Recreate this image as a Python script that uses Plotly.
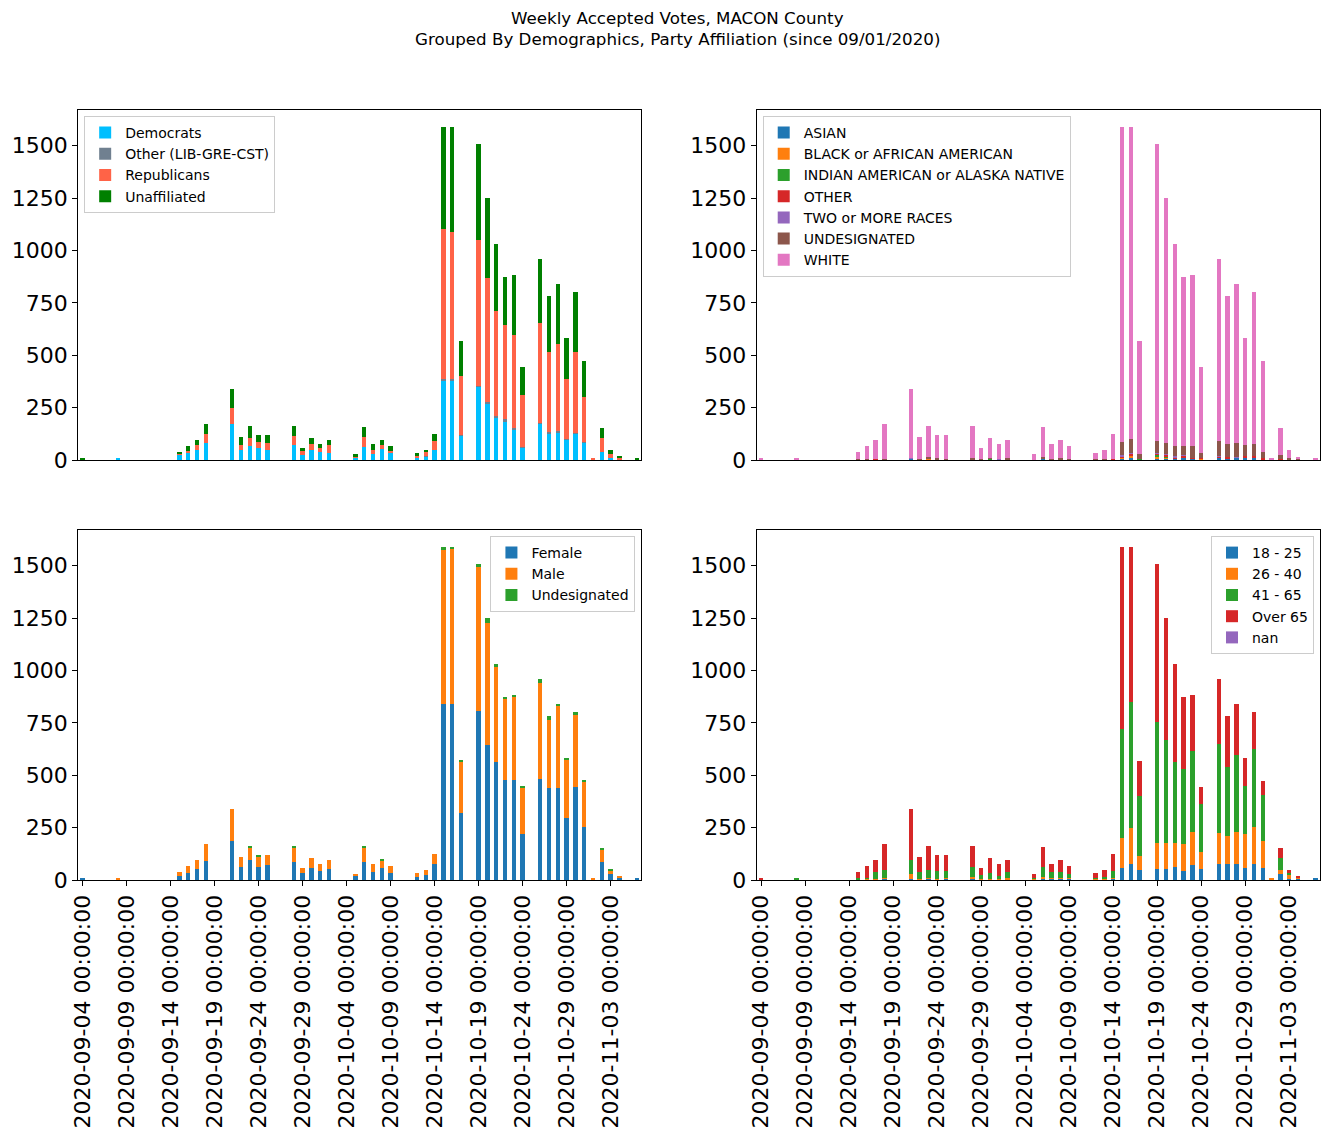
import pandas as pd
import plotly.graph_objects as go

# ---- data ----
ALL_DAYS = [d.strftime("%Y-%m-%d %H:%M:%S") for d in pd.date_range("2020-09-04", "2020-11-06", freq="D")]
TICK_LABELS = ALL_DAYS[::5]

DATES = ["2020-09-04", "2020-09-08", "2020-09-15", "2020-09-16", "2020-09-17", "2020-09-18",
         "2020-09-21", "2020-09-22", "2020-09-23", "2020-09-24", "2020-09-25",
         "2020-09-28", "2020-09-29", "2020-09-30", "2020-10-01", "2020-10-02",
         "2020-10-05", "2020-10-06", "2020-10-07", "2020-10-08", "2020-10-09",
         "2020-10-12", "2020-10-13", "2020-10-14", "2020-10-15", "2020-10-16", "2020-10-17",
         "2020-10-19", "2020-10-20", "2020-10-21", "2020-10-22", "2020-10-23", "2020-10-24",
         "2020-10-26", "2020-10-27", "2020-10-28", "2020-10-29", "2020-10-30", "2020-10-31",
         "2020-11-01", "2020-11-02", "2020-11-03", "2020-11-04", "2020-11-06"]
DATES = [d + " 00:00:00" for d in DATES]

# Party affiliation
democrats = [0, 5, 24, 33, 49, 81, 174, 49, 68, 59, 49, 72, 24, 49, 40, 33, 10, 62, 30, 53, 33, 11, 16, 49,
             379, 379, 116, 350, 271, 202, 186, 143, 61, 175, 126, 129, 96, 126, 83, 0, 40, 11, 2, 0]
other_party = [0, 0, 0, 0, 0, 0, 0, 0, 0, 0, 0, 0, 0, 0, 0, 0, 0, 0, 0, 0, 0, 0, 3, 0,
               6, 9, 5, 5, 4, 10, 8, 11, 3, 3, 9, 10, 4, 1, 5, 0, 0, 0, 0, 0]
republicans = [0, 0, 5, 10, 23, 45, 74, 23, 37, 27, 32, 43, 19, 29, 17, 39, 4, 48, 19, 19, 10, 9, 19, 42,
               719, 701, 280, 696, 594, 497, 451, 443, 247, 476, 381, 415, 287, 389, 213, 5, 65, 19, 9, 0]
unaffiliated = [5, 0, 9, 24, 24, 46, 91, 38, 57, 33, 38, 47, 14, 27, 19, 24, 15, 48, 27, 24, 24, 13, 10, 33,
                487, 502, 169, 455, 383, 323, 230, 288, 133, 306, 267, 288, 196, 287, 172, 0, 48, 18, 5, 6]

# Race
asian = [0, 0, 0, 0, 0, 0, 5, 0, 0, 0, 0, 0, 0, 0, 0, 0, 0, 5, 0, 0, 0, 0, 0, 0,
         8, 10, 0, 5, 6, 6, 10, 8, 0, 10, 8, 10, 8, 8, 0, 0, 0, 0, 0, 0]
black = [0, 0, 0, 0, 0, 0, 0, 0, 5, 0, 0, 0, 0, 0, 0, 0, 0, 0, 0, 0, 0, 0, 0, 0,
         3, 10, 0, 14, 5, 3, 0, 0, 6, 0, 0, 0, 0, 0, 0, 0, 0, 0, 0, 0]
indian = [0, 0, 0, 0, 0, 0, 0, 0, 0, 0, 0, 0, 0, 5, 0, 0, 0, 0, 0, 0, 0, 0, 0, 0,
          3, 0, 6, 5, 5, 0, 0, 0, 0, 0, 0, 0, 0, 0, 0, 0, 0, 0, 0, 0]
other_race = [0, 0, 0, 0, 5, 0, 0, 0, 0, 0, 0, 0, 0, 0, 0, 0, 0, 0, 0, 0, 0, 0, 0, 5,
              3, 10, 0, 8, 8, 5, 11, 3, 5, 5, 6, 0, 11, 11, 10, 0, 5, 0, 0, 0]
two_more = [0, 0, 0, 0, 0, 0, 3, 0, 0, 0, 0, 0, 0, 0, 5, 0, 0, 0, 0, 0, 0, 0, 0, 0,
            5, 5, 0, 3, 3, 5, 5, 0, 0, 5, 0, 3, 0, 0, 0, 0, 0, 0, 0, 0]
undesignated_race = [0, 0, 5, 5, 0, 5, 0, 5, 10, 10, 5, 10, 5, 5, 0, 10, 0, 10, 5, 10, 5, 5, 5, 0,
                     64, 65, 23, 56, 54, 48, 41, 56, 22, 71, 62, 68, 53, 57, 28, 0, 19, 10, 3, 0]
white = [5, 5, 33, 62, 91, 167, 331, 105, 147, 109, 114, 152, 52, 95, 71, 86, 29, 143, 71, 86, 62, 28, 43, 119,
         1505, 1491, 541, 1415, 1171, 965, 808, 818, 411, 869, 707, 761, 511, 727, 435, 5, 129, 38, 13, 6]

# Gender
female = [5, 0, 19, 33, 53, 91, 186, 62, 96, 62, 72, 86, 33, 57, 43, 53, 19, 86, 38, 57, 33, 14, 24, 76,
          842, 838, 320, 807, 645, 565, 475, 475, 221, 484, 441, 441, 298, 444, 255, 0, 88, 30, 11, 6]
male = [0, 5, 19, 34, 43, 81, 153, 48, 61, 52, 47, 71, 24, 48, 33, 43, 10, 67, 38, 34, 34, 19, 24, 48,
        731, 740, 245, 685, 583, 454, 387, 399, 220, 454, 324, 391, 277, 345, 215, 5, 55, 13, 5, 0]
undesignated_gender = [0, 0, 0, 0, 0, 0, 0, 0, 5, 5, 0, 5, 0, 0, 0, 0, 0, 5, 0, 5, 0, 0, 0, 0,
                       18, 13, 5, 14, 24, 13, 13, 11, 3, 22, 18, 10, 8, 14, 3, 0, 10, 5, 0, 0]

# Age
age_18_25 = [0, 0, 0, 0, 3, 5, 5, 2, 5, 0, 5, 5, 2, 2, 3, 3, 1, 5, 5, 5, 5, 1, 3, 5,
             59, 78, 49, 54, 54, 64, 45, 73, 54, 78, 78, 78, 59, 78, 59, 0, 30, 6, 5, 6]
age_26_40 = [0, 0, 0, 6, 3, 5, 24, 3, 5, 5, 5, 9, 3, 3, 3, 7, 5, 9, 6, 6, 6, 4, 5, 6,
             143, 172, 67, 124, 124, 114, 129, 158, 81, 148, 134, 153, 162, 177, 129, 5, 19, 19, 6, 0]
age_41_65 = [0, 5, 10, 5, 34, 39, 67, 33, 38, 38, 33, 47, 17, 28, 13, 28, 4, 47, 29, 29, 19, 6, 8, 34,
             519, 602, 287, 574, 492, 383, 358, 387, 230, 425, 328, 368, 230, 368, 218, 0, 56, 10, 3, 0]
age_over_65 = [5, 0, 28, 56, 56, 123, 243, 72, 114, 76, 76, 101, 35, 72, 57, 58, 19, 97, 36, 56, 37, 22, 32, 79,
               870, 739, 167, 754, 582, 471, 343, 267, 79, 309, 243, 243, 132, 180, 67, 0, 48, 13, 2, 0]
age_nan = [0] * 44

PANELS = [
    ("Democrats", democrats, "#00BFFF", 1, "legend"),
    ("Other (LIB-GRE-CST)", other_party, "#708090", 1, "legend"),
    ("Republicans", republicans, "#FF6347", 1, "legend"),
    ("Unaffiliated", unaffiliated, "#008000", 1, "legend"),
    ("ASIAN", asian, "#1f77b4", 2, "legend2"),
    ("BLACK or AFRICAN AMERICAN", black, "#ff7f0e", 2, "legend2"),
    ("INDIAN AMERICAN or ALASKA NATIVE", indian, "#2ca02c", 2, "legend2"),
    ("OTHER", other_race, "#d62728", 2, "legend2"),
    ("TWO or MORE RACES", two_more, "#9467bd", 2, "legend2"),
    ("UNDESIGNATED", undesignated_race, "#8c564b", 2, "legend2"),
    ("WHITE", white, "#e377c2", 2, "legend2"),
    ("Female", female, "#1f77b4", 3, "legend3"),
    ("Male", male, "#ff7f0e", 3, "legend3"),
    ("Undesignated", undesignated_gender, "#2ca02c", 3, "legend3"),
    ("18 - 25", age_18_25, "#1f77b4", 4, "legend4"),
    ("26 - 40", age_26_40, "#ff7f0e", 4, "legend4"),
    ("41 - 65", age_41_65, "#2ca02c", 4, "legend4"),
    ("Over 65", age_over_65, "#d62728", 4, "legend4"),
    ("nan", age_nan, "#9467bd", 4, "legend4"),
]

W, H = 1326, 1137
FONT = "DejaVu Sans"

# the page shows the paper area at an offset/scale: map target screen pixels to paper fractions
OX, PW, PH = 8.0, 1315.0, 1124.0

def fx(X):
    return (X - OX) / PW

def fy(Y):
    return 1 - Y / PH

fig = go.Figure()
for name, vals, color, k, leg in PANELS:
    xa = "x" if k == 1 else f"x{k}"
    ya = "y" if k == 1 else f"y{k}"
    fig.add_trace(go.Bar(x=DATES, y=vals, name=name, marker=dict(color=color, line=dict(width=0)),
                         xaxis=xa, yaxis=ya, legend=leg, width=0.5))

xdom = {1: [fx(78), fx(640)], 2: [fx(755), fx(1317)], 3: [fx(78), fx(640)], 4: [fx(755), fx(1317)]}
ydom = {1: [fy(460), fy(110)], 2: [fy(460), fy(110)], 3: [fy(880), fy(530)], 4: [fy(880), fy(530)]}

layout = dict(
    width=W, height=H, barmode="stack", bargap=0.5,
    margin=dict(l=0, r=0, t=0, b=0),
    paper_bgcolor="white", plot_bgcolor="white",
    font=dict(family=FONT, color="black"),
    showlegend=True,
)
for k in range(1, 5):
    xk = "xaxis" if k == 1 else f"xaxis{k}"
    yk = "yaxis" if k == 1 else f"yaxis{k}"
    bottom = k >= 3
    layout[xk] = dict(
        domain=xdom[k], anchor="y" if k == 1 else f"y{k}",
        type="category", categoryorder="array", categoryarray=ALL_DAYS,
        range=[-0.5, len(ALL_DAYS) - 0.5],
        showline=True, mirror=True, linecolor="black", linewidth=1,
        showgrid=False, zeroline=False,
        tickmode="array", tickvals=TICK_LABELS, ticktext=TICK_LABELS,
        ticks="outside" if bottom else "", ticklen=5, tickcolor="black",
        showticklabels=bottom, tickangle=-90,
        tickfont=dict(family=FONT, size=22, color="black"),
    )
    layout[yk] = dict(
        domain=ydom[k], anchor="x" if k == 1 else f"x{k}",
        range=[0, 1670.55],
        showline=True, mirror=True, linecolor="black", linewidth=1,
        showgrid=False, zeroline=False,
        tickmode="array", tickvals=[0, 250, 500, 750, 1000, 1250, 1500],
        ticks="outside", ticklen=5, tickcolor="black",
        tickfont=dict(family=FONT, size=22, color="black"),
    )

legend_style = dict(bgcolor="rgba(255,255,255,0.8)", bordercolor="#cccccc", borderwidth=1,
                    font=dict(family=FONT, size=14, color="black"), tracegroupgap=0,
                    traceorder="normal")
layout["legend"] = dict(x=fx(84), y=fy(116), xanchor="left", yanchor="top", **legend_style)
layout["legend2"] = dict(x=fx(761), y=fy(116), xanchor="left", yanchor="top", **legend_style)
layout["legend3"] = dict(x=fx(634), y=fy(536), xanchor="right", yanchor="top", **legend_style)
layout["legend4"] = dict(x=fx(1311), y=fy(536), xanchor="right", yanchor="top", **legend_style)

layout["annotations"] = [
    dict(text="Weekly Accepted Votes, MACON County", x=fx(676), y=fy(18), xref="paper", yref="paper",
         xanchor="center", yanchor="middle", showarrow=False, font=dict(family=FONT, size=16.7, color="black")),
    dict(text="Grouped By Demographics, Party Affiliation (since 09/01/2020)", x=fx(676), y=fy(39),
         xref="paper", yref="paper", xanchor="center", yanchor="middle", showarrow=False,
         font=dict(family=FONT, size=16.7, color="black")),
]

fig.update_layout(**layout)
fig.write_html("out.html", config={"displayModeBar": False},
               post_script="document.body.style.margin='0px';document.body.style.overflow='hidden';")
